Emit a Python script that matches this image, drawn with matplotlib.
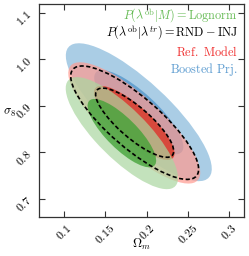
import numpy as np
import matplotlib
matplotlib.use('Agg')
import matplotlib.pyplot as plt
from matplotlib.patches import Ellipse
from matplotlib.ticker import FixedLocator, FuncFormatter

plt.rcParams['mathtext.fontset'] = 'cm'
plt.rcParams['font.family'] = 'serif'
plt.rcParams['font.serif'] = ['DejaVu Serif']

# ---- data (Gaussian approximation of each posterior) ----
models = ['Boosted Prj.', 'Ref. Model', 'Lognorm', 'RND-INJ']
mean_om = [0.1905, 0.185, 0.170, 0.1855]
mean_s8 = [0.8865, 0.8635, 0.8415, 0.864]
sig_om = [0.0356, 0.0322, 0.0274, 0.0312]
sig_s8 = [0.0597, 0.0525, 0.0485, 0.0491]
rho = [-0.82, -0.82, -0.80, -0.82]
levels_k = [np.sqrt(2.30), np.sqrt(6.17)]  # 68% and 95%

xticks = [0.1, 0.15, 0.2, 0.25, 0.3]
yticks = [0.7, 0.8, 0.9, 1.0, 1.1]

outer_col = ['#86b8db', '#ff9b90', '#aad7a0', None]
inner_col = ['#4a90c8', '#d93a2a', '#3ca032', None]
outer_alpha = [0.7, 0.7, 0.7, 0]
inner_alpha = [0.7, 0.85, 0.75, 0]
text_col = ['#5b9bd0', '#f03030', '#66bb55', 'black']


def ellipse_params(i, k):
    cov = np.array([[sig_om[i] ** 2, rho[i] * sig_om[i] * sig_s8[i]],
                    [rho[i] * sig_om[i] * sig_s8[i], sig_s8[i] ** 2]])
    vals, vecs = np.linalg.eigh(cov)
    order = vals.argsort()[::-1]
    vals, vecs = vals[order], vecs[:, order]
    angle = np.degrees(np.arctan2(vecs[1, 0], vecs[0, 0]))
    return 2 * k * np.sqrt(vals[0]), 2 * k * np.sqrt(vals[1]), angle


fig = plt.figure(figsize=(2.49, 2.56), dpi=100)
ax = fig.add_axes([0.157, 0.152, 0.823, 0.832])

for i in range(3):
    w, h, a = ellipse_params(i, levels_k[1])
    ax.add_patch(Ellipse((mean_om[i], mean_s8[i]), w, h, angle=a,
                         facecolor=outer_col[i], alpha=outer_alpha[i], lw=0))
    w, h, a = ellipse_params(i, levels_k[0])
    ax.add_patch(Ellipse((mean_om[i], mean_s8[i]), w, h, angle=a,
                         facecolor=inner_col[i], alpha=inner_alpha[i], lw=0))

i = 3
for k in levels_k:
    w, h, a = ellipse_params(i, k)
    ax.add_patch(Ellipse((mean_om[i], mean_s8[i]), w, h, angle=a,
                         facecolor='none', edgecolor='black', lw=1.2,
                         linestyle=(0, (2.5, 1.5))))

ax.set_xlim(0.0697, 0.318)
ax.set_ylim(0.661, 1.119)
ax.xaxis.set_major_locator(FixedLocator(xticks))
ax.yaxis.set_major_locator(FixedLocator(yticks))
ax.xaxis.set_major_formatter(FuncFormatter(lambda v, p: r'$%g$' % v))
ax.yaxis.set_major_formatter(FuncFormatter(lambda v, p: r'$%.1f$' % v))
ax.tick_params(direction='in', top=True, right=True, length=4, width=0.8,
               labelsize=8.5, color='#333333')
for lab in ax.get_xticklabels():
    lab.set_rotation(45)
for lab in ax.get_yticklabels():
    lab.set_rotation(45)
for s in ax.spines.values():
    s.set_color('#333333')
    s.set_linewidth(0.9)

ax.set_xlabel(r'$\Omega_m$', fontsize=9, va='center')
ax.xaxis.set_label_coords(0.5, -0.128)
ax.set_ylabel(r'$\sigma_8$', fontsize=9, rotation=0, va='center', ha='center')
ax.yaxis.set_label_coords(-0.145, 0.49)

labels = [r'$P(\lambda^{\rm ob}|M) = {\rm Lognorm}$',
          r'$P(\lambda^{\rm ob}|\lambda^{tr}) = {\rm RND} - {\rm INJ}$',
          r'$\rm Ref.\ Model$',
          r'$\rm Boosted\ Prj.$']
lcols = [text_col[2], text_col[3], text_col[1], text_col[0]]
ypos = [0.946, 0.864, 0.777, 0.692]
for lab, c, yy in zip(labels, lcols, ypos):
    ax.text(0.97, yy, lab, color=c, fontsize=8.8, ha='right', va='center',
            transform=ax.transAxes)

fig.savefig('out.png', dpi=100)
